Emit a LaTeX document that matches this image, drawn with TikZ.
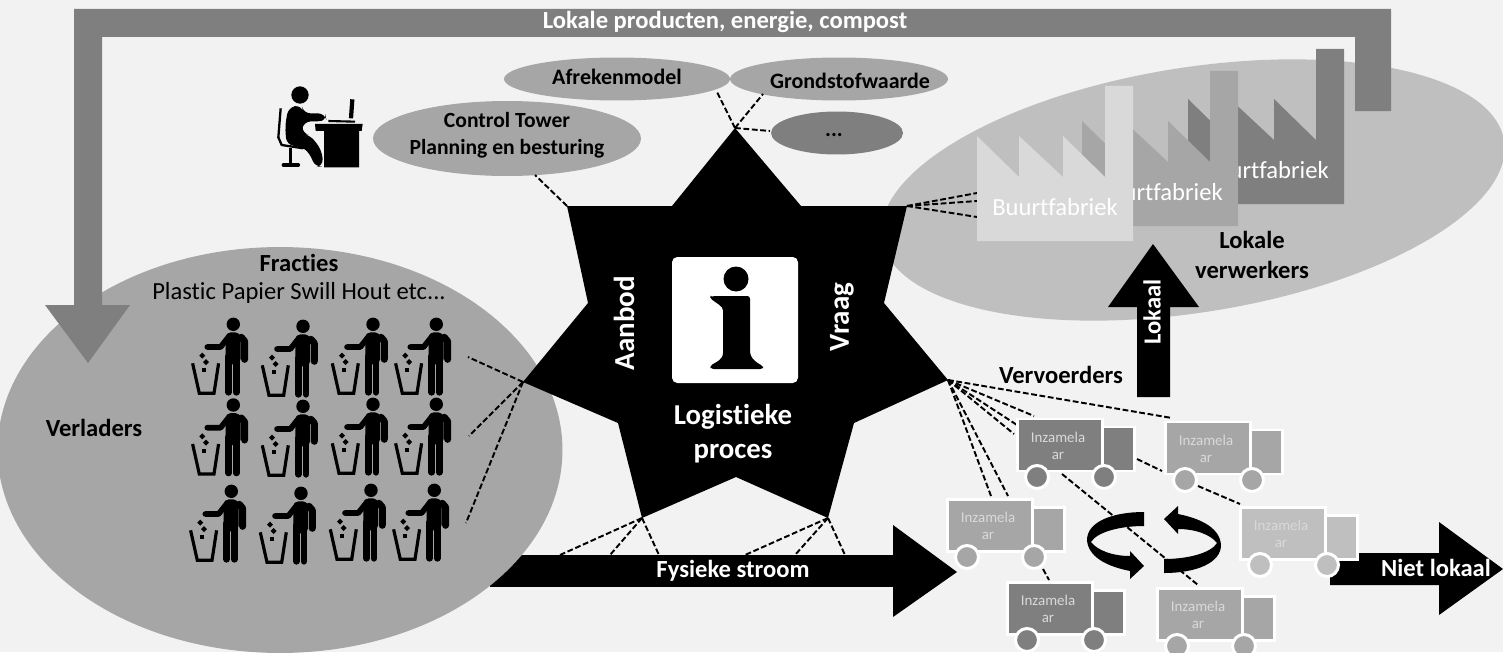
\documentclass[tikz,border=0pt]{standalone}
\usepackage{fontspec}
\setmainfont[Ligatures=NoCommon]{Carlito}
\usetikzlibrary{shapes.geometric}
\definecolor{paper}{HTML}{F2F2F2}
\definecolor{grayA}{HTML}{7F7F7F}
\definecolor{grayB}{HTML}{A6A6A6}
\definecolor{grayC}{HTML}{BFBFBF}
\definecolor{grayD}{HTML}{D9D9D9}
\newcommand{\fsize}[1]{\fontsize{#1}{#1}\selectfont}
\begin{document}
\begin{tikzpicture}[x=0.02cm,y=-0.02cm,
		label/.style={font=\fsize{14}\bfseries, align=center, inner sep=0pt},
		small/.style={font=\fsize{12.5}\bfseries, align=center, inner sep=0pt},
		blob/.style={ellipse, inner sep=0pt},
		link/.style={draw, line width=1.1pt, dash pattern=on 3.3pt off 1.5pt},
		pics/factory/.style={code={
			\fill[#1] (0,50) -- (42,91) -- (42,50) -- (86,91) -- (86,50) -- (128,91) -- (128,0)
				-- (156,0) -- (156,155) -- (0,155) -- cycle;
			\node[font=\fsize{14}, text=white] at (78,121) {Buurtfabriek};
		}},
		pics/truck/.style={code={
			\draw[fill=#1, draw=white, line width=1.7pt] (85,8) rectangle (117,52);
			\draw[fill=#1, draw=white, line width=1.7pt] (0,0) rectangle (85,52);
			\draw[fill=#1, draw=white, line width=1.7pt] (20,58) circle[radius=11.5];
			\draw[fill=#1, draw=white, line width=1.7pt] (87,58) circle[radius=11.5];
			\node[font=\fsize{8.5}, text=grayD, align=center] at (41,27) {Inzamela\\[1pt]ar};
		}},
		pics/thrower/.style={code={
			\fill (0,0) circle[radius=6.7];
			\fill[rounded corners=3] (-7.7,8) rectangle (7.2,40);
			\draw[line width=3.8pt, line cap=round] (-4.7,32) -- (-4.7,68);
			\draw[line width=3.8pt, line cap=round] (3,32) -- (3,68);
			\draw[line width=3.2pt, line cap=round, line join=round] (-26,22.7) -- (-12.7,22.7) -- (-4,11.7);
			\draw[line width=4pt, line cap=round, line join=round] (8,13) -- (11.3,17) -- (11.3,35);
			% bin
			\draw[line width=1.8pt] (-40.7,39) -- (-34,69) -- (-19.3,69) -- (-14.7,39);
			\fill (-34,31.3) -- (-31,28.3) -- (-28,31.3) -- (-31,34.3) -- cycle;
			\fill (-30.3,37.7) -- (-27.3,34.7) -- (-24.3,37.7) -- (-27.3,40.7) -- cycle;
			\fill (-31.5,43.5) rectangle (-27.1,47.9);
		}},
		pics/swirl/.style={code={
			\fill (1144,512) .. controls (1112,512) and (1087,522) .. (1087,540)
				.. controls (1088,556) and (1105,566) .. (1130,571)
				-- (1130,579) -- (1144,566) -- (1130,551) -- (1130,556)
				.. controls (1112,556) and (1097,550) .. (1091,542)
				.. controls (1097,532) and (1120,526) .. (1144,526) -- cycle;
		}},
	]
	\clip (0,0) rectangle (1503,652);
	\fill[paper] (0,0) rectangle (1503,652);

	% ellipses behind everything
	\node[ellipse, fill=grayC, minimum width=12.6cm, minimum height=4.9cm, rotate=9] (verwerkers) at (1193,190) {};
	\fill (490,555) rectangle (893,587);
	\fill (893,525) -- (957,572) -- (893,617) -- cycle;
	\node[ellipse, fill=grayB, minimum width=11.3cm, minimum height=8.12cm] (verladers) at (280,450) {};

	% return arrow
	\fill[grayA] (1391,9) -- (1391,111) -- (1355,111) -- (1355,37) -- (102,37) -- (102,305) -- (130,305)
		-- (88,363) -- (45,305) -- (74,305) -- (74,9) -- cycle;
	\node[label, text=white] (retour) at (725,22) {Lokale producten, energie, compost};

	% star
	\fill (735,128) coordinate (tipT) -- (801,206) -- (907,206) coordinate (tipR) -- (884,303)
		-- (948,380) coordinate (tipV) -- (854,423) -- (828,518) coordinate (tipC) -- (736,477)
		-- (642,518) coordinate (tipB) -- (618,423) -- (523,382) coordinate (tipA) -- (588,303)
		-- (567,206) coordinate (tipL) -- (672,206) -- cycle;
	\node[label, text=white, font=\fsize{16.5}\bfseries, rotate=90] (aanbod) at (624,323) {Aanbod};
	\node[label, text=white, font=\fsize{16.5}\bfseries, rotate=90] (vraag) at (842,317) {Vraag};
	\node[label, text=white, font=\fsize{16.4}\bfseries] (proces) at (733,434) {Logistieke\\[3pt]proces};

	% info sign
	\fill[white, rounded corners=3] (672,257) rectangle (798,383);
	\fill (736,279) circle[radius=12.5];
	\fill[rounded corners=1.5] (710,298) -- (712,296) -- (750,296) -- (750,353)
		.. controls (752,359) and (757,363) .. (763,366) -- (763,369) -- (711,369) -- (710,366)
		.. controls (716,362) and (723,360) .. (723,350) -- (723,313)
		.. controls (723,306) and (716,303) .. (710,298) -- cycle;

	% top ellipses
	\node[blob, fill=grayB, minimum width=4.52cm, minimum height=0.86cm] (afreken) at (617,79) {};
	\node[blob, fill=grayB, minimum width=4.36cm, minimum height=0.86cm] (grondstof) at (839,79) {};
	\node[blob, fill=grayA, minimum width=2.64cm, minimum height=0.86cm] (rest) at (837,133) {};
	\node[blob, fill=grayB, minimum width=5.36cm, minimum height=1.5cm] (tower) at (507,138.5) {};
	\node[small] (afrekentxt) at (617,77) {Afrekenmodel};
	\node[small] (grondstoftxt) at (850,81) {Grondstofwaarde};
	\node[small] (resttxt) at (834,135) {...};
	\node[small, font=\fsize{12.3}\bfseries] (towertxt) at (507,135.5) {Control Tower\\[3pt]Planning en besturing};

	% operator
	\begin{scope}[shift={(260,50)},scale=1/3]
		\fill (120,135) circle[radius=26];
		\fill (165,222) -- (308,222) -- (305,243) -- (297,243) -- (297,352) -- (192,352) -- (192,243) -- (167,243) -- cycle;
		\fill[rounded corners=4] (85,172) -- (125,165) -- (130,190) -- (195,190) -- (200,213) -- (130,215) -- (125,250)
			-- (150,255) -- (185,300) -- (190,348) -- (165,352) -- (150,310) -- (125,290) -- (80,285) -- (75,230) -- cycle;
		\draw[line width=1.3pt] (62,175) -- (55,262) -- (65,285) -- (130,295);
		\draw[line width=2pt] (92,295) -- (92,345);
		\draw[line width=2pt, line cap=round] (70,345) -- (115,345);
		\draw[line width=2.4pt] (277,148) -- (273,205);
		\draw[line width=1.2pt] (205,213) -- (285,215);
	\end{scope}

	% free ends of the links
	\foreach \n/\x/\y in {a1/468/357, a2/469/436, a3/466/523,
			b1/560/555, b2/610/555, b3/659/555, c1/745/555, c2/795/555, c3/845/555,
			l1/535/175, t1/717/92, t2/763/94, t3/770/131,
			r1/977/193, r2/977/201, r3/977/217,
			v1/1172/418, v2/1034/416, v3/1017/425, v4/1014/434, v5/1008/496, v6/991/496}
		\coordinate (\n) at (\x,\y);
	\foreach \n in {1,2,3} {
		\draw[link] (tipA) -- (a\n);
		\draw[link] (tipB) -- (b\n);
		\draw[link] (tipC) -- (c\n);
		\draw[link] (tipT) -- (t\n);
		\draw[link] (tipR) -- (r\n);
	}
	\draw[link] (tipL) -- (l1);
	\foreach \n in {1,...,6}
		\draw[link] (tipV) -- (v\n);
	% links between the trucks
	\coordinate (k1) at (1137,459);
	\coordinate (k2) at (1162,471);
	\coordinate (k3) at (1198,486);
	\coordinate (k4) at (1240,504);
	\coordinate (k5) at (1062,474);
	\coordinate (k6) at (1198,585);
	\coordinate (k7) at (1043,569);
	\coordinate (k8) at (1049,580);
	\draw[link] (k1) -- (k2);
	\draw[link] (k3) -- (k4);
	\draw[link] (k5) -- (k6);
	\draw[link] (k7) -- (k8);

	% people
	\foreach \x/\y in {233.3/324.3, 303/326.3, 373/324.3, 436.3/324.3,
			233.3/405, 303/406.3, 373/404.3, 436.3/404.3,
			231.3/491.3, 301/493.3, 371/490.3, 434.3/490.3}
		\pic at (\x,\y) {thrower};
	\node[label] (fracties) at (299,279) {Fracties\\[2pt]\mdseries Plastic Papier Swill Hout etc...};
	\node[label] (verladerstxt) at (94,428) {Verladers};

	% factories
	\pic at (1188,49) {factory=grayA};
	\pic at (1082,71) {factory=grayB};
	\pic at (977,86) {factory=grayD};
	\node[label] (lokale) at (1252,255) {Lokale\\[3pt]verwerkers};

	% arrow up
	\fill (1137,397) -- (1137,307) -- (1108,307) -- (1153,244) -- (1199,307) -- (1170,307) -- (1170,397) -- cycle;
	\node[label, text=white, rotate=90] (lokaal) at (1152,312) {Lokaal};
	\node[label] (vervoerders) at (1061,375) {Vervoerders};

	% arrow out
	\fill (1330,553) -- (1439,553) -- (1439,522) -- (1503,569) -- (1439,615) -- (1439,585) -- (1330,585) -- cycle;
	\node[label, text=white] (nietlokaal) at (1436,568) {Niet lokaal};
	\node[label, text=white] (fysiek) at (733,571) {Fysieke stroom};

	% trucks
	\pic at (1017,419) {truck=grayA};
	\pic at (1165,422) {truck=grayB};
	\pic at (947,499) {truck=grayB};
	\pic at (1240,507) {truck=grayC};
	\pic at (1007,582) {truck=grayA};
	\pic at (1157,588) {truck=grayB};

	% round arrows
	\pic {swirl};
	\pic[rotate around={180:(1154,542.5)}] {swirl};
\end{tikzpicture}
\end{document}
